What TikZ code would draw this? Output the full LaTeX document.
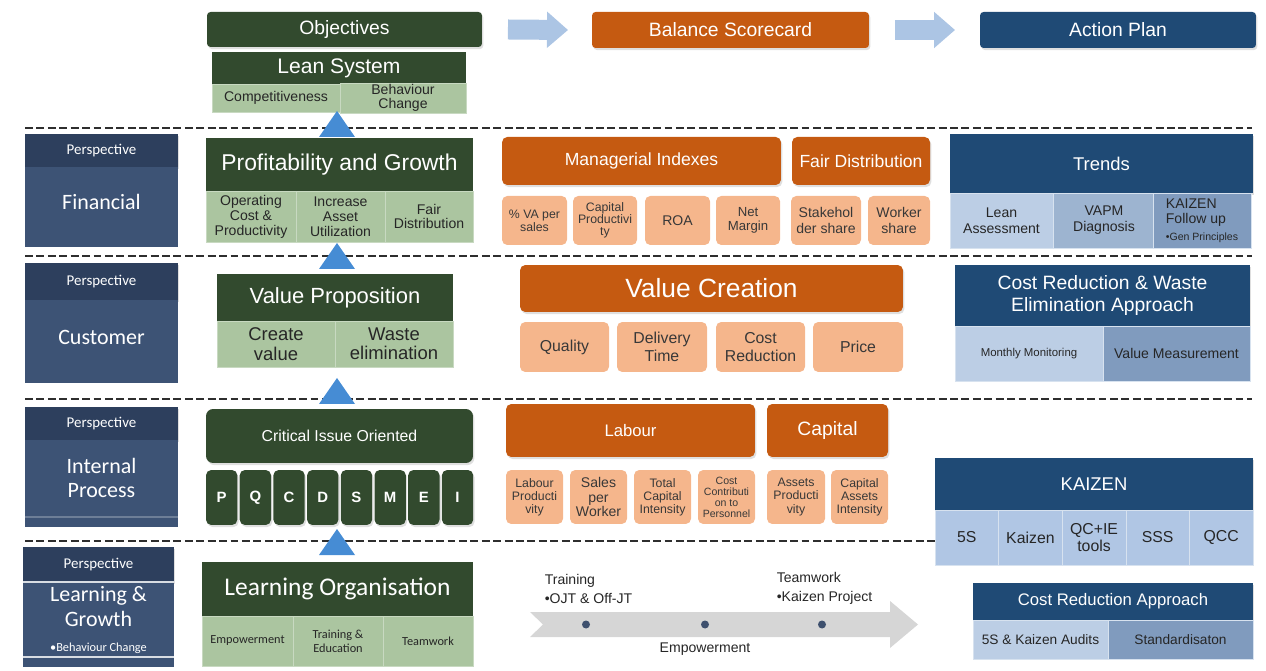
\documentclass[tikz,border=0pt]{standalone}
\usepackage{fontspec}
\setmainfont{Liberation Sans}
\newfontfamily\calibrifont{Carlito}
\usetikzlibrary{arrows.meta,shadows}

\definecolor{bscgreen}{RGB}{50,74,46}
\definecolor{bsclgreen}{RGB}{171,197,160}
\definecolor{bscorange}{RGB}{197,90,17}
\definecolor{bsclorange}{RGB}{245,182,140}
\definecolor{bscnavy}{RGB}{31,74,117}
\definecolor{bscpband}{RGB}{45,63,93}
\definecolor{bscpbody}{RGB}{61,83,117}
\definecolor{bscblueA}{RGB}{188,206,229}
\definecolor{bscblueB}{RGB}{157,180,208}
\definecolor{bscblueC}{RGB}{128,155,190}
\definecolor{bscblueK}{RGB}{176,198,228}
\definecolor{bsctri}{RGB}{70,140,212}
\definecolor{bscarrow}{RGB}{172,197,228}
\definecolor{bscgray}{RGB}{214,214,214}
\definecolor{bscdot}{RGB}{62,80,110}

\begin{document}
\begin{tikzpicture}[
    x=0.02cm, y=-0.02cm,
    every node/.style={inner sep=1pt, outer sep=0pt, align=center},
    sz/.style 2 args={minimum width=#1cm, minimum height=#2cm},
    softshadow/.style={drop shadow={opacity=.25, shadow xshift=0.8pt, shadow yshift=-1.2pt}},
    topbox/.style={rounded corners=2pt, text=white, font=\fontsize{11}{13}\selectfont, softshadow},
    ghead/.style={fill=bscgreen, text=white},
    gsub/.style={fill=bsclgreen, draw=white!35!bsclgreen, line width=0.3pt, text=black!85, font=\fontsize{8}{8.5}\selectfont},
    ohead/.style={fill=bscorange, text=white, rounded corners=3pt, softshadow},
    osub/.style={fill=bsclorange, text=black!78, rounded corners=3pt},
    nhead/.style={fill=bscnavy, text=white},
    nsub/.style={draw=white!40!bscblueA, line width=0.3pt, text=black!85, font=\fontsize{8}{9}\selectfont},
    pband/.style={fill=bscpband, text=white!92, font=\calibrifont\fontsize{8.5}{10}\selectfont},
    pbody/.style={fill=bscpbody},
    ptext/.style={text=white!92, font=\calibrifont\fontsize{12.5}{14}\selectfont},
    sep/.style={dash pattern=on 4.5pt off 2pt, line width=1.4pt, black!82},
    hdarrow/.style={line width=0.4cm, bscarrow, -{Triangle[length=0.42cm, width=0.7cm]}},
    dot/.style={circle, fill=bscdot, minimum size=0.16cm, inner sep=0pt},
    tl/.style={anchor=west, align=left, text=black!85, font=\fontsize{8}{10.8}\selectfont}
]
\useasboundingbox (0,0) rectangle (1266,671);

% --- dashed separators
\draw[sep] (25,128) -- (1252,128);
\draw[sep] (25,256) -- (1252,256);
\draw[sep] (25,399) -- (1252,399);
\draw[sep] (25,541) -- (940,541);

% --- header row
\node[topbox, fill=bscgreen, sz={5.5}{0.7}] (obj) at (344.5,29.5) {Objectives};
\node[topbox, fill=bscorange, sz={5.54}{0.72}] (bsc) at (730.5,30) {Balance Scorecard};
\node[topbox, fill=bscnavy, sz={5.52}{0.72}] (act) at (1118,30) {Action Plan};
\draw[hdarrow] ([xshift=0.52cm]obj.east) -- ([xshift=-0.48cm]bsc.west);
\draw[hdarrow] ([xshift=0.52cm]bsc.east) -- ([xshift=-0.5cm]act.west);

% --- lean system
\node[ghead, sz={5.08}{0.64}, font=\fontsize{12}{14}\selectfont] (ls) at (339,68) {Lean System};
\node[gsub, sz={2.56}{0.56}] (ls1) at (276,98) {Competitiveness};
\node[gsub, sz={2.52}{0.56}, font=\fontsize{8}{7.8}\selectfont] (ls2) at (403,98) {Behaviour\\Change};

% --- perspectives
\node[pband, sz={3.06}{0.66}, softshadow] (pf0) at (101.5,150.5) {Perspective};
\node[pbody, sz={3.06}{1.6}, label={[ptext, yshift=0.11cm]center:Financial}] (pf) at (101.5,207) {};
\node[pband, sz={3.06}{0.74}, softshadow] (pc0) at (101.5,281.5) {Perspective};
\node[pbody, sz={3.06}{1.66}, label={[ptext, yshift=0.09cm]center:Customer}] (pc) at (101.5,341.5) {};
\node[pband, sz={3.06}{0.66}, softshadow] (pi0) at (101.5,423.5) {Perspective};
\node[pbody, sz={3.06}{1.74}, label={[ptext, yshift=0.11cm]center:Internal\\Process}] (pi) at (101.5,483.5) {};
\draw[white!25!bscpbody, line width=0.6pt] ([yshift=0.2cm]pi.south west) -- ([yshift=0.2cm]pi.south east);
\node[pband, sz={3.02}{0.7}, softshadow] (pl0) at (98.5,564.5) {Perspective};
\node[pbody, sz={3.02}{1.7},
      label={[ptext, yshift=0.36cm]center:Learning \&\\Growth},
      label={[ptext, yshift=-0.47cm, font=\calibrifont\fontsize{7}{8}\selectfont]center:\textbullet Behaviour Change}] (pl) at (98.5,624.5) {};
\draw[white!80!bscpbody, line width=0.6pt] (pl.north west) -- (pl.north east);
\draw[white!80!bscpbody, line width=0.6pt] ([yshift=0.2cm]pl.south west) -- ([yshift=0.2cm]pl.south east);

% --- financial row
\node[ghead, sz={5.34}{1.06}, font=\fontsize{13}{15}\selectfont] (pg) at (339.5,164.5) {Profitability and Growth};
\node[gsub, sz={1.8}{1.02}] (pg1) at (251,216.5) {Operating\\Cost \&\\Productivity};
\node[gsub, sz={1.78}{1.02}] (pg2) at (340.5,216.5) {Increase\\Asset\\Utilization};
\node[gsub, sz={1.76}{1.02}] (pg3) at (429,216.5) {Fair\\Distribution};

\node[ohead, sz={5.58}{0.96}, font=\fontsize{10}{12}\selectfont] (mi) at (641.5,161) {Managerial Indexes};
\node[ohead, sz={2.76}{0.96}, font=\fontsize{10}{12}\selectfont] (fd) at (861,161) {Fair Distribution};
\node[osub, sz={1.3}{0.98}, font=\fontsize{7}{7.5}\selectfont] (va) at (534.5,220.5) {\% VA per\\sales};
\node[osub, sz={1.28}{0.98}, font=\fontsize{7}{7}\selectfont] (cp) at (605,220.5) {Capital\\Productivi\\ty};
\node[osub, sz={1.3}{0.98}, font=\fontsize{8}{9}\selectfont] (roa) at (677.5,220.5) {ROA};
\node[osub, sz={1.28}{0.98}, font=\fontsize{7.5}{8}\selectfont] (nm) at (748,220.5) {Net\\Margin};
\node[osub, sz={1.4}{0.98}, font=\fontsize{8}{9}\selectfont] (ss) at (826,220.5) {Stakehol\\der share};
\node[osub, sz={1.24}{0.98}, font=\fontsize{8}{9}\selectfont] (ws) at (899,220.5) {Worker\\share};

\node[nhead, sz={6.06}{1.18}, font=\fontsize{10.5}{12}\selectfont, softshadow] (tr) at (1101.5,163.5) {Trends};
\node[nsub, fill=bscblueA, sz={2.06}{1.1}] (la) at (1001.5,220.5) {Lean\\Assessment};
\node[nsub, fill=bscblueB, sz={2.04}{1.1}] (vapm) at (1104,220.5) {VAPM\\Diagnosis};
\node[nsub, fill=bscblueC, sz={1.96}{1.1}, align=left, font=\fontsize{8}{8.5}\selectfont] (kf) at (1202,220.5) {KAIZEN\\Follow up\\[1pt]{\fontsize{6}{7}\selectfont \textbullet Gen Principles}};

% --- customer row
\node[ghead, sz={4.72}{0.94}, font=\fontsize{12.5}{14}\selectfont] (vp) at (335,297.5) {Value Proposition};
\node[gsub, sz={2.36}{0.92}, font=\fontsize{10.5}{11}\selectfont] (vp1) at (276,344) {Create\\value};
\node[gsub, sz={2.36}{0.92}, font=\fontsize{10.5}{11}\selectfont] (vp2) at (394,344) {Waste\\elimination};

\node[ohead, sz={7.66}{0.94}, font=\fontsize{15}{17}\selectfont] (vc) at (711.5,288.5) {Value Creation};
\node[osub, sz={1.78}{1.0}, font=\fontsize{9}{10}\selectfont] (qual) at (564.5,347) {Quality};
\node[osub, sz={1.8}{1.0}, font=\fontsize{9}{10}\selectfont] (dlv) at (662,347) {Delivery\\Time};
\node[osub, sz={1.78}{1.0}, font=\fontsize{9}{10}\selectfont] (cred) at (760.5,347) {Cost\\Reduction};
\node[osub, sz={1.8}{1.0}, font=\fontsize{9}{10}\selectfont] (price) at (858,347) {Price};

\node[nhead, sz={5.9}{1.22}, font=\fontsize{11}{12.5}\selectfont, softshadow] (crw) at (1102.5,295.5) {Cost Reduction \& Waste\\Elimination Approach};
\node[nsub, fill=bscblueA, sz={2.96}{1.1}, font=\fontsize{6.5}{8}\selectfont] (mm) at (1029,353.5) {Monthly Monitoring};
\node[nsub, fill=bscblueC, sz={2.94}{1.1}] (vm) at (1176.5,353.5) {Value Measurement};

% --- internal process row
\node[ghead, rounded corners=4pt, sz={5.34}{1.08}, font=\fontsize{9}{10}\selectfont, softshadow] (cio) at (339.5,436) {Critical Issue Oriented};
\foreach \l [count=\i] in {P,Q,C,D,S,M,E,I}
    \node[ghead, rounded corners=3pt, sz={0.626}{1.1}, text=white!88, font=\bfseries\fontsize{8.5}{10}\selectfont, softshadow] (pq\i) at ({187.95+\i*33.7},497.5) {\l};

\node[ohead, sz={4.98}{1.06}, font=\fontsize{9.5}{11}\selectfont] (lab) at (630.5,430.5) {Labour};
\node[ohead, sz={2.42}{1.06}, font=\fontsize{11}{13}\selectfont] (cap) at (827.5,430.5) {Capital};
\node[osub, sz={1.14}{1.08}, font=\fontsize{7}{7.5}\selectfont] (lp) at (534.5,497) {Labour\\Producti\\vity};
\node[osub, sz={1.14}{1.08}, font=\fontsize{8}{8.5}\selectfont] (spw) at (598.5,497) {Sales\\per\\Worker};
\node[osub, sz={1.14}{1.08}, font=\fontsize{7}{7.5}\selectfont] (tci) at (662.5,497) {Total\\Capital\\Intensity};
\node[osub, sz={1.14}{1.08}, font=\fontsize{6}{6.3}\selectfont] (ccp) at (726.5,497) {Cost\\Contributi\\on to\\Personnel};
\node[osub, sz={1.16}{1.08}, font=\fontsize{7}{7.5}\selectfont] (ap) at (796,497) {Assets\\Producti\\vity};
\node[osub, sz={1.14}{1.08}, font=\fontsize{7}{7.5}\selectfont] (cai) at (859.5,497) {Capital\\Assets\\Intensity};

\node[nhead, sz={6.36}{1.04}, font=\fontsize{10.5}{12}\selectfont, softshadow] (kz) at (1094,484) {KAIZEN};
\foreach \t [count=\i] in {5S,Kaizen,{QC+IE\\tools},SSS,QCC}
    \node[nsub, fill=bscblueK, sz={1.272}{1.1}, font=\fontsize{9}{9.5}\selectfont] (kz\i) at ({903.2+\i*63.6},537.5) {\t};

% --- learning & growth row
\node[ghead, sz={5.42}{1.08}, font=\calibrifont\fontsize{14.5}{16}\selectfont] (lo) at (337.5,589) {Learning Organisation};
\node[gsub, sz={1.82}{1.0}, font=\calibrifont\fontsize{7}{8}\selectfont] (lo1) at (247.5,641) {Empowerment};
\node[gsub, sz={1.8}{1.0}, font=\calibrifont\fontsize{7}{8}\selectfont] (lo2) at (338,641) {Training \&\\Education};
\node[gsub, sz={1.8}{1.0}, font=\calibrifont\fontsize{7}{8}\selectfont] (lo3) at (428,641) {Teamwork};

% timeline
\fill[bscgray] (530,612) -- (890,612) -- (890,601) -- (918,624.5) -- (890,648) -- (890,637) -- (530,637) -- (543,624.5) -- cycle;
\foreach \x [count=\i] in {586,705,822}
    \node[dot] (d\i) at (\x,624.5) {};
\node[tl] (trn) at (543,588.5) {Training\\\textbullet OJT \& Off-JT};
\node[tl] (tmw) at (775,588.5) {Teamwork\\\textbullet Kaizen Project};
\node[text=black!85, font=\fontsize{8}{10}\selectfont] (emp) at (705,649) {Empowerment};

\node[nhead, sz={5.6}{0.74}, font=\fontsize{9.5}{11}\selectfont, softshadow] (cra) at (1113,601.5) {Cost Reduction Approach};
\node[nsub, fill=bscblueA, sz={2.7}{0.78}, font=\fontsize{7.8}{9}\selectfont] (ska) at (1040.5,639.5) {5S \& Kaizen Audits};
\node[nsub, fill=bscblueC, sz={2.9}{0.78}, font=\fontsize{7.8}{9}\selectfont] (std) at (1180.5,639.5) {Standardisaton};

% --- upward triangles between perspectives
\foreach \yc in {124,256,391,542}
    \fill[bsctri] (319,\yc+13) -- (355,\yc+13) -- (337,\yc-13) -- cycle;

\end{tikzpicture}
\end{document}
